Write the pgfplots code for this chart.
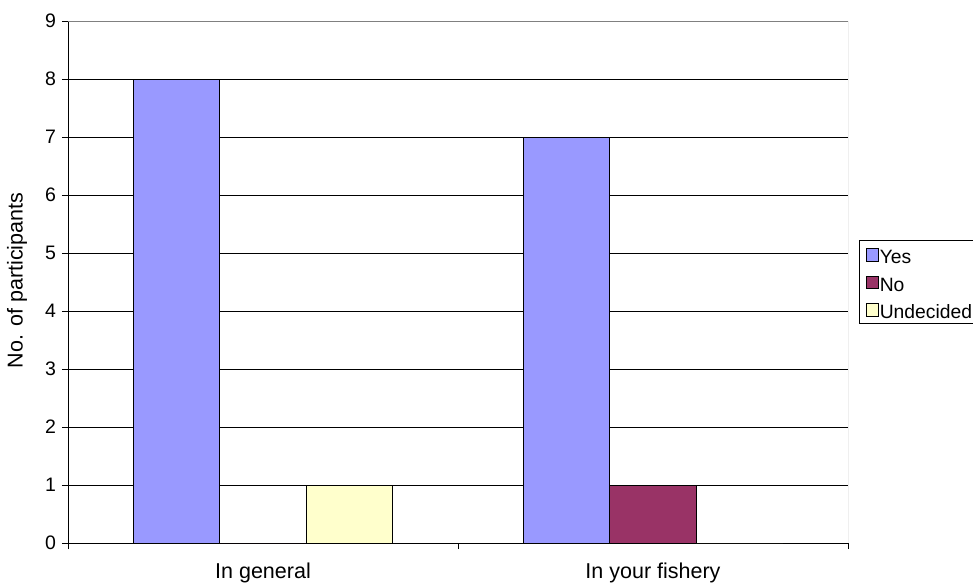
\documentclass[border=0pt]{standalone}
\usepackage{pgfplots}
\pgfplotsset{compat=1.18}
\usepackage{fontspec}
\setmainfont{Liberation Sans}
\definecolor{cYes}{HTML}{9999FF}
\definecolor{cNo}{HTML}{993366}
\definecolor{cUnd}{HTML}{FFFFCC}
\pgfplotsset{myleg/.style={legend image code/.code={\draw[##1, line width=0.8pt] (0pt,-6.5pt) rectangle (12.5pt,6pt);}}}
\begin{document}
\begin{tikzpicture}[x=1pt,y=1pt]
\useasboundingbox (0,0) rectangle (973,583);
\begin{axis}[
  at={(68pt,40pt)}, anchor=south west,
  scale only axis, width=780pt, height=522pt,
  xmin=-0.5, xmax=1.5, ymin=0, ymax=9,
  axis x line*=bottom, axis y line*=left,
  axis line style={black, line width=1pt},
  ytick={0,1,...,9},
  xtick={0,1}, xticklabels={In general, In your fishery},
  minor xtick={-0.5,0.5,1.5},
  major x tick style={draw=none},
  tick align=outside,
  major tick length=6pt, minor tick length=6pt,
  tick style={black, line width=1pt},
  ymajorgrids, major grid style={black, line width=0.9pt},
  yticklabel style={font=\fontsize{19.5}{22}\selectfont, xshift=-2.5pt},
  xticklabel style={font=\fontsize{21.5}{24}\selectfont, yshift=-10.5pt},
  /pgf/number format/assume math mode=true,
  ylabel={No. of participants},
  every axis y label/.style={at={(axis description cs:-0.0654,0.503)}, rotate=90, anchor=center, font=\fontsize{21.5}{24}\selectfont},
  legend style={at={(axis description cs:1.0141,0.5805)}, anchor=north west, draw=black, line width=1pt,
    font=\fontsize{19.3}{22}\selectfont, inner xsep=6pt, inner ysep=2.5pt,
    nodes={inner xsep=1pt, inner ysep=0.5pt, text height=20pt, text depth=2pt}, row sep=4.7pt},
  legend cell align=left,
]
\addplot[ybar, bar width=0.222, bar shift=-0.222, fill=cYes, draw=black, line width=1pt, myleg]
  coordinates {(0,8) (1,7)};
\addplot[ybar, bar width=0.222, bar shift=0, fill=cNo, draw=black, line width=1pt, myleg]
  coordinates {(0,0) (1,1)};
\addplot[ybar, bar width=0.222, bar shift=0.222, fill=cUnd, draw=black, line width=1pt, myleg]
  coordinates {(0,1) (1,0)};
\legend{Yes, No, Undecided}
\draw[gray, line width=1pt] (rel axis cs:0,1) -- (rel axis cs:1,1) -- (rel axis cs:1,0);
\end{axis}
\end{tikzpicture}
\end{document}
